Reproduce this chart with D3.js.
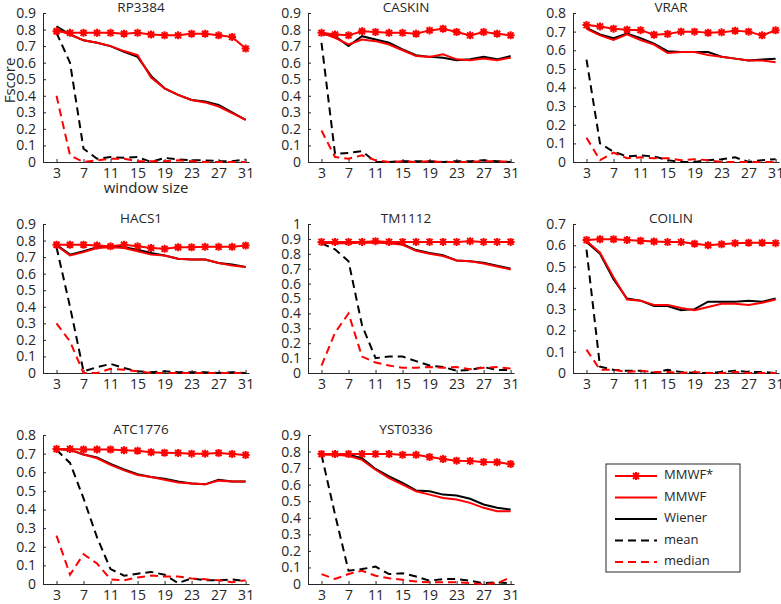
<!DOCTYPE html>
<html>
<head>
<meta charset="utf-8">
<script src="https://cdn.jsdelivr.net/npm/d3@7"></script>
<style>
  body { margin: 0; background: #fff; }
  text { font-family: "Open Sans", sans-serif; fill: #262626; }
</style>
</head>
<body>
<script>
// window sizes on the x axis
const windowSizes = [3, 5, 7, 9, 11, 13, 15, 17, 19, 21, 23, 25, 27, 29, 31];
const xTicks = [3, 7, 11, 15, 19, 23, 27, 31];
const panelNames = ['RP3384', 'CASKIN', 'VRAR', 'HACS1', 'TM1112', 'COILIN', 'ATC1776', 'YST0336'];
const yMaxes = [0.9, 0.9, 0.8, 0.9, 1.0, 0.7, 0.8, 0.9];
const seriesNames = ['MMWF*', 'MMWF', 'Wiener', 'mean', 'median'];

// Fscore per panel, one array per method
const mmwfStar = [
  [0.79, 0.78, 0.78, 0.78, 0.78, 0.775, 0.78, 0.77, 0.765, 0.765, 0.775, 0.775, 0.765, 0.755, 0.685],
  [0.78, 0.77, 0.765, 0.79, 0.785, 0.78, 0.78, 0.775, 0.795, 0.805, 0.785, 0.765, 0.785, 0.775, 0.765],
  [0.735, 0.728, 0.716, 0.71, 0.708, 0.683, 0.687, 0.70, 0.70, 0.694, 0.696, 0.705, 0.70, 0.68, 0.707],
  [0.775, 0.775, 0.775, 0.77, 0.765, 0.775, 0.765, 0.755, 0.75, 0.76, 0.76, 0.762, 0.762, 0.762, 0.77],
  [0.88, 0.88, 0.88, 0.88, 0.885, 0.88, 0.88, 0.88, 0.88, 0.88, 0.88, 0.885, 0.88, 0.88, 0.88],
  [0.625, 0.628, 0.628, 0.625, 0.621, 0.618, 0.615, 0.615, 0.607, 0.60, 0.605, 0.61, 0.612, 0.612, 0.61],
  [0.725, 0.725, 0.722, 0.722, 0.722, 0.718, 0.715, 0.707, 0.705, 0.703, 0.70, 0.70, 0.703, 0.698, 0.693],
  [0.785, 0.785, 0.785, 0.785, 0.785, 0.785, 0.78, 0.78, 0.767, 0.755, 0.745, 0.743, 0.737, 0.735, 0.725]
];
const mmwf = [
  [0.80, 0.77, 0.735, 0.72, 0.70, 0.67, 0.645, 0.51, 0.445, 0.405, 0.375, 0.36, 0.335, 0.295, 0.255],
  [0.78, 0.75, 0.71, 0.74, 0.73, 0.71, 0.675, 0.64, 0.635, 0.65, 0.62, 0.615, 0.625, 0.615, 0.63],
  [0.715, 0.68, 0.655, 0.685, 0.655, 0.63, 0.585, 0.59, 0.59, 0.575, 0.565, 0.555, 0.545, 0.545, 0.535],
  [0.77, 0.71, 0.73, 0.755, 0.76, 0.755, 0.735, 0.715, 0.71, 0.69, 0.685, 0.685, 0.665, 0.65, 0.64],
  [0.875, 0.87, 0.87, 0.875, 0.875, 0.87, 0.86, 0.82, 0.80, 0.785, 0.755, 0.75, 0.735, 0.715, 0.695],
  [0.62, 0.565, 0.45, 0.345, 0.34, 0.32, 0.32, 0.305, 0.295, 0.31, 0.325, 0.325, 0.32, 0.33, 0.345],
  [0.725, 0.72, 0.695, 0.675, 0.64, 0.61, 0.585, 0.575, 0.56, 0.545, 0.54, 0.535, 0.555, 0.55, 0.55],
  [0.78, 0.78, 0.775, 0.75, 0.69, 0.64, 0.60, 0.56, 0.54, 0.52, 0.51, 0.49, 0.46, 0.44, 0.44]
];
const wiener = [
  [0.82, 0.77, 0.735, 0.72, 0.70, 0.665, 0.635, 0.52, 0.445, 0.405, 0.375, 0.365, 0.345, 0.30, 0.255],
  [0.775, 0.76, 0.70, 0.76, 0.74, 0.72, 0.68, 0.645, 0.635, 0.63, 0.615, 0.62, 0.635, 0.62, 0.64],
  [0.72, 0.685, 0.665, 0.69, 0.665, 0.635, 0.595, 0.59, 0.59, 0.59, 0.565, 0.555, 0.545, 0.55, 0.555],
  [0.775, 0.715, 0.735, 0.76, 0.765, 0.76, 0.745, 0.725, 0.71, 0.69, 0.685, 0.685, 0.665, 0.655, 0.64],
  [0.875, 0.875, 0.875, 0.88, 0.88, 0.875, 0.865, 0.825, 0.805, 0.79, 0.755, 0.75, 0.74, 0.72, 0.70],
  [0.615, 0.56, 0.44, 0.35, 0.34, 0.315, 0.315, 0.295, 0.30, 0.335, 0.335, 0.335, 0.34, 0.335, 0.35],
  [0.725, 0.72, 0.695, 0.68, 0.645, 0.615, 0.59, 0.575, 0.565, 0.55, 0.54, 0.535, 0.56, 0.55, 0.55],
  [0.785, 0.785, 0.78, 0.76, 0.695, 0.65, 0.61, 0.565, 0.56, 0.54, 0.535, 0.515, 0.48, 0.46, 0.45]
];
const meanF = [
  [0.78, 0.60, 0.08, 0.02, 0.03, 0.025, 0.03, 0.0, 0.025, 0.015, 0.01, 0.01, 0.005, 0.005, 0.015],
  [0.72, 0.05, 0.055, 0.065, 0.0, 0.0, 0.005, 0.005, 0.005, 0.0, 0.005, 0.005, 0.01, 0.005, 0.0],
  [0.55, 0.10, 0.055, 0.03, 0.035, 0.03, 0.01, 0.0, 0.0, 0.01, 0.015, 0.025, 0.0, 0.01, 0.015],
  [0.76, 0.40, 0.01, 0.035, 0.055, 0.03, 0.01, 0.005, 0.01, 0.005, 0.005, 0.005, 0.0, 0.005, 0.0],
  [0.87, 0.83, 0.75, 0.32, 0.10, 0.11, 0.11, 0.08, 0.05, 0.04, 0.015, 0.02, 0.04, 0.02, 0.02],
  [0.58, 0.03, 0.015, 0.01, 0.01, 0.0, 0.015, 0.005, 0.0, 0.0, 0.005, 0.01, 0.005, 0.005, 0.0],
  [0.72, 0.65, 0.46, 0.25, 0.08, 0.045, 0.055, 0.065, 0.05, 0.005, 0.03, 0.02, 0.02, 0.025, 0.015],
  [0.78, 0.42, 0.08, 0.09, 0.105, 0.06, 0.065, 0.045, 0.02, 0.03, 0.03, 0.02, 0.005, 0.01, 0.005]
];
const medianF = [
  [0.40, 0.04, 0.0, 0.01, 0.02, 0.02, 0.005, 0.005, 0.005, 0.01, 0.005, 0.0, 0.0, 0.0, 0.0],
  [0.19, 0.03, 0.02, 0.04, 0.01, 0.0, 0.005, 0.0, 0.005, 0.0, 0.0, 0.0, 0.005, 0.005, 0.0],
  [0.13, 0.01, 0.05, 0.02, 0.025, 0.02, 0.02, 0.01, 0.015, 0.01, 0.0, 0.0, 0.0, 0.0, 0.0],
  [0.30, 0.19, 0.0, 0.0, 0.025, 0.02, 0.01, 0.0, 0.0, 0.0, 0.0, 0.0, 0.0, 0.0, 0.0],
  [0.05, 0.27, 0.40, 0.11, 0.07, 0.05, 0.035, 0.035, 0.04, 0.035, 0.04, 0.025, 0.035, 0.04, 0.03],
  [0.11, 0.015, 0.015, 0.005, 0.01, 0.005, 0.005, 0.0, 0.005, 0.0, 0.0, 0.005, 0.0, 0.0, 0.0],
  [0.26, 0.05, 0.16, 0.11, 0.025, 0.02, 0.035, 0.045, 0.04, 0.04, 0.03, 0.025, 0.02, 0.01, 0.02],
  [0.06, 0.03, 0.06, 0.08, 0.05, 0.035, 0.025, 0.015, 0.01, 0.01, 0.01, 0.005, 0.0, 0.005, 0.04]
];

const width = 781, height = 604;
const colLeft = [43, 308, 573];
const rowTop = [13, 224, 435];
const plotW = 206, plotH = 149;
const RED = '#ff0000', BLACK = '#000000', AXIS = '#262626';

// draw order and style per series (bottom to top)
const styles = [
  { data: meanF, color: BLACK, dash: '8,5', marker: false },
  { data: medianF, color: RED, dash: '8,5', marker: false },
  { data: wiener, color: BLACK, dash: null, marker: false },
  { data: mmwf, color: RED, dash: null, marker: false },
  { data: mmwfStar, color: RED, dash: null, marker: true }
];

const starPath = 'M-4,0L4,0M0,-4L0,4M-3,-3L3,3M-3,3L3,-3';

const svg = d3.select('body').append('svg')
  .attr('width', width)
  .attr('height', height);

const x = d3.scaleLinear().domain([1, 31.5]).range([0, plotW]);

panelNames.forEach((name, i) => {
  const g = svg.append('g')
    .attr('transform', `translate(${colLeft[i % 3]},${rowTop[Math.floor(i / 3)]})`);

  const y = d3.scaleLinear().domain([0, yMaxes[i]]).range([plotH, 0]);
  const yTicks = d3.range(0, Math.round(yMaxes[i] * 10) + 1).map(k => k / 10);

  const xAxis = g.append('g')
    .attr('transform', `translate(0,${plotH})`)
    .call(d3.axisBottom(x).tickValues(xTicks).tickSizeInner(-3).tickSizeOuter(0).tickPadding(6));
  const yAxis = g.append('g')
    .call(d3.axisLeft(y).tickValues(yTicks).tickFormat(d3.format('~g'))
      .tickSizeInner(-3).tickSizeOuter(0).tickPadding(7));

  [xAxis, yAxis].forEach(a => {
    a.select('.domain').attr('stroke', AXIS);
    a.selectAll('.tick line').attr('stroke', AXIS);
    a.selectAll('.tick text')
      .style('font-family', '"Open Sans", sans-serif')
      .style('font-size', '14px')
      .attr('fill', AXIS);
  });

  const line = d3.line()
    .x((d, k) => x(windowSizes[k]))
    .y(d => y(d));

  styles.forEach(s => {
    g.append('path')
      .attr('d', line(s.data[i]))
      .attr('fill', 'none')
      .attr('stroke', s.color)
      .attr('stroke-width', 2)
      .attr('stroke-dasharray', s.dash);
    if (s.marker) {
      g.selectAll(null)
        .data(s.data[i])
        .enter()
        .append('path')
        .attr('d', starPath)
        .attr('transform', (d, k) => `translate(${x(windowSizes[k])},${y(d)})`)
        .attr('stroke', s.color)
        .attr('stroke-width', 2)
        .attr('fill', 'none');
    }
  });

  g.append('text')
    .attr('x', plotW / 2 - 5)
    .attr('y', -1)
    .attr('text-anchor', 'middle')
    .style('font-size', '13.5px')
    .text(name);

  if (i === 0) {
    g.append('text')
      .attr('transform', `translate(-32,${plotH / 2 - 7}) rotate(-90)`)
      .attr('text-anchor', 'middle')
      .attr('dominant-baseline', 'middle')
      .style('font-size', '15px')
      .text('Fscore');
    g.append('text')
      .attr('x', plotW / 2)
      .attr('y', plotH + 31)
      .attr('text-anchor', 'middle')
      .style('font-size', '15px')
      .text('window size');
  }
});

// legend in the empty ninth cell
const legend = svg.append('g').attr('transform', 'translate(606,464)');
legend.append('rect')
  .attr('width', 134)
  .attr('height', 108)
  .attr('fill', '#fff')
  .attr('stroke', AXIS)
  .attr('stroke-width', 1);

const legendStyles = [styles[4], styles[3], styles[2], styles[0], styles[1]];
seriesNames.forEach((n, k) => {
  const s = legendStyles[k];
  const ly = 12 + k * 21.5;
  legend.append('line')
    .attr('x1', 9).attr('x2', 51)
    .attr('y1', ly).attr('y2', ly)
    .attr('stroke', s.color)
    .attr('stroke-width', 2)
    .attr('stroke-dasharray', s.dash);
  if (s.marker) {
    legend.append('path')
      .attr('d', starPath)
      .attr('transform', `translate(30,${ly})`)
      .attr('stroke', s.color)
      .attr('stroke-width', 2);
  }
  legend.append('text')
    .attr('x', 58)
    .attr('y', ly)
    .attr('dominant-baseline', 'middle')
    .style('font-size', '13px')
    .text(n);
});
</script>
</body>
</html>
